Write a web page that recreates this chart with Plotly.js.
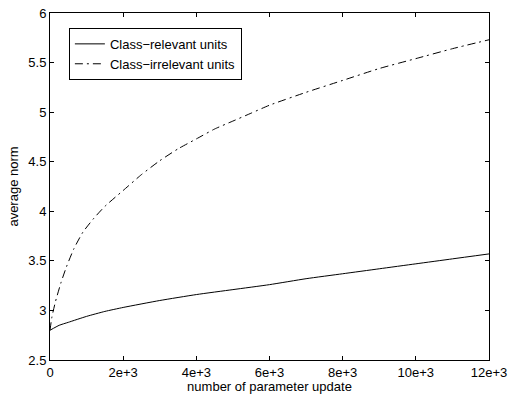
<!DOCTYPE html>
<html><head><meta charset="utf-8">
<script src="https://cdn.plot.ly/plotly-3.0.1.min.js"></script>
<style>html,body{margin:0;padding:0;background:#fff}#chart{width:511px;height:394px}</style>
</head><body><div id="chart"></div>
<script>
const relevantX = [0, 250, 500, 1000, 1500, 2000, 3000, 4000, 5000, 6000, 7000, 8000, 9000, 10000, 11000, 12000];
const relevantY = [2.80, 2.85, 2.88, 2.94, 2.99, 3.03, 3.10, 3.16, 3.21, 3.26, 3.32, 3.37, 3.42, 3.47, 3.52, 3.57];
const irrelevantX = [0, 50, 150, 300, 450, 650, 900, 1200, 1500, 2000, 2500, 3000, 3500, 4000, 4500, 5000, 5500, 6000, 7000, 8000, 9000, 10000, 11000, 12000];
const irrelevantY = [2.80, 2.93, 3.09, 3.28, 3.44, 3.62, 3.79, 3.93, 4.05, 4.21, 4.37, 4.51, 4.63, 4.73, 4.83, 4.91, 4.99, 5.07, 5.20, 5.32, 5.44, 5.54, 5.64, 5.73];
const xTickVals = [0, 2000, 4000, 6000, 8000, 10000, 12000];
const xTickText = ['0', '2e+3', '4e+3', '6e+3', '8e+3', '10e+3', '12e+3'];
const seriesNames = ['Class\u2212relevant units', 'Class\u2212irrelevant units'];

const font = {family: 'Liberation Sans, Arial, sans-serif', size: 13, color: '#000'};
const traces = [
  {x: relevantX, y: relevantY, name: seriesNames[0], mode: 'lines', line: {color: '#000', width: 1, shape: 'spline', smoothing: 0.5}},
  {x: irrelevantX, y: irrelevantY, name: seriesNames[1], mode: 'lines', line: {color: '#000', width: 1, dash: '8px,4px,2px,4px', shape: 'spline', smoothing: 0.5}}
];
const axisCommon = {showline: true, linecolor: '#000', linewidth: 1, mirror: 'ticks', ticks: 'inside', ticklen: 4, tickcolor: '#000', showgrid: false, zeroline: false, tickfont: font};
const layout = {
  width: 511, height: 394,
  margin: {l: 50, r: 22, t: 13, b: 34},
  paper_bgcolor: '#fff', plot_bgcolor: '#fff',
  font: font,
  showlegend: true,
  legend: {x: 0.043, y: 0.957, xanchor: 'left', yanchor: 'top', bordercolor: '#000', borderwidth: 1, bgcolor: '#fff', font: font, tracegroupgap: 0},
  xaxis: Object.assign({}, axisCommon, {range: [0, 12000], tickvals: xTickVals, ticktext: xTickText, title: {text: 'number of parameter update', font: font, standoff: 2}}),
  yaxis: Object.assign({}, axisCommon, {range: [2.5, 6], dtick: 0.5, tick0: 2.5, title: {text: 'average norm', font: font, standoff: 6}})
};
Plotly.newPlot('chart', traces, layout, {displayModeBar: false, staticPlot: true});
</script></body></html>
